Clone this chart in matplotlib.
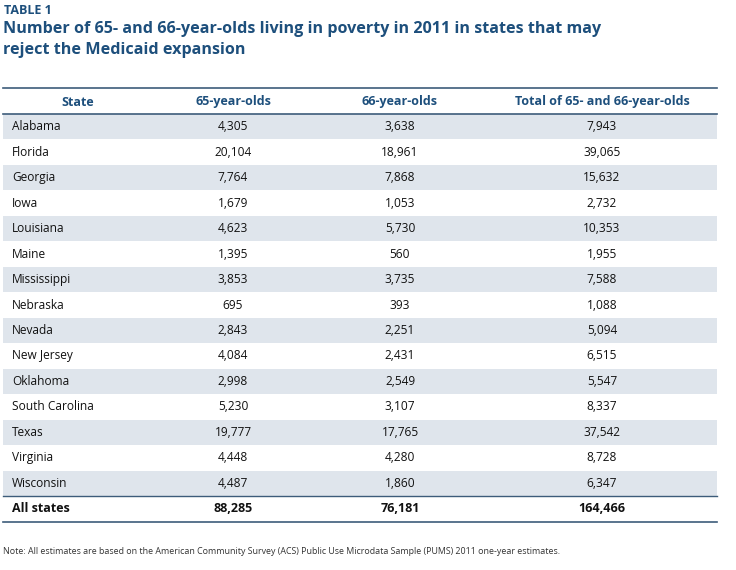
import matplotlib.pyplot as plt
from matplotlib.patches import Rectangle

states = ["Alabama", "Florida", "Georgia", "Iowa", "Louisiana", "Maine",
          "Mississippi", "Nebraska", "Nevada", "New Jersey", "Oklahoma",
          "South Carolina", "Texas", "Virginia", "Wisconsin"]
age65 = [4305, 20104, 7764, 1679, 4623, 1395, 3853, 695, 2843, 4084,
         2998, 5230, 19777, 4448, 4487]
age66 = [3638, 18961, 7868, 1053, 5730, 560, 3735, 393, 2251, 2431,
         2549, 3107, 17765, 4280, 1860]
totals = [7943, 39065, 15632, 2732, 10353, 1955, 7588, 1088, 5094, 6515,
          5547, 8337, 37542, 8728, 6347]
all_states = ["All states", 88285, 76181, 164466]
headers = ["State", "65-year-olds", "66-year-olds", "Total of 65- and 66-year-olds"]

blue = "#1d4f7c"
line_col = "#3d5c7a"
shade = "#dfe5ec"
font = "Open Sans"

fig = plt.figure(figsize=(7.36, 5.70), dpi=100)
ax = fig.add_axes([0, 0, 1, 1])
ax.set_xlim(0, 736)
ax.set_ylim(570, 0)
ax.axis("off")

ax.text(4, 10, "TABLE 1", color=blue, fontsize=9, fontweight="bold",
        family=font, va="center")
ax.text(3, 29, "Number of 65- and 66-year-olds living in poverty in 2011 in states that may",
        color=blue, fontsize=11.6, fontweight="bold", family=font, va="center")
ax.text(3, 50, "reject the Medicaid expansion",
        color=blue, fontsize=11.6, fontweight="bold", family=font, va="center")

x0, x1 = 3, 717
col_x = [78, 233, 400, 602]
top = 114
pitch = 25.47

ax.plot([x0, x1], [88, 88], color=line_col, lw=1.2)
for x, h in zip(col_x, headers):
    ax.text(x, 102, h, color=blue, fontsize=9, fontweight="bold",
            family=font, ha="center", va="center")
ax.plot([x0, x1], [top, top], color=line_col, lw=1.2)

for i, st in enumerate(states):
    y = top + i * pitch
    if i % 2 == 0:
        ax.add_patch(Rectangle((x0, y), x1 - x0, pitch, color=shade, lw=0))
    yc = y + pitch / 2
    ax.text(12, yc, st, fontsize=8.6, family=font, va="center", color="#111111")
    for x, v in zip(col_x[1:], [age65[i], age66[i], totals[i]]):
        ax.text(x, yc, f"{v:,}", fontsize=8.6, family=font, ha="center",
                va="center", color="#111111")

y = top + len(states) * pitch
ax.plot([x0, x1], [y, y], color=line_col, lw=1.0)
yc = y + pitch / 2
ax.text(12, yc, all_states[0], fontsize=9, fontweight="bold", family=font,
        va="center", color="#111111")
for x, v in zip(col_x[1:], all_states[1:]):
    ax.text(x, yc, f"{v:,}", fontsize=9, fontweight="bold", family=font,
            ha="center", va="center", color="#111111")
ax.plot([x0, x1], [y + pitch, y + pitch], color=line_col, lw=1.2)

ax.text(3, 551, "Note: All estimates are based on the American Community Survey (ACS) Public Use "
        "Microdata Sample (PUMS) 2011 one-year estimates.",
        fontsize=6.4, family=font, va="center", color="#333333")

fig.savefig("out.png", dpi=100)
